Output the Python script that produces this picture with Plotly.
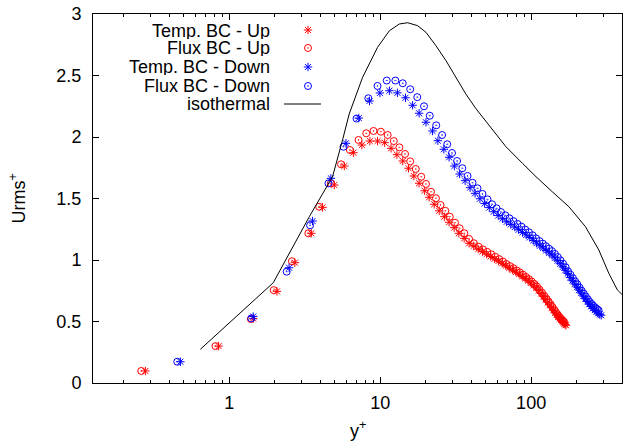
import plotly.graph_objects as go

# ---------------- data ----------------
yp_temp_up = [0.278, 0.85, 1.44, 2.07, 2.72, 3.49, 4.15, 4.96, 5.78, 6.64,
              7.56, 8.54, 9.60, 10.7, 11.8, 12.9, 14.1, 15.4, 16.7, 18.1,
              19.7, 21.1, 22.8, 24.6, 26.6, 28.6, 30.9, 33.2, 36.0, 38.8,
              41.6, 44.6, 47.6, 50.7, 53.9, 57.3, 60.7, 64.3, 67.9, 71.6,
              75.4, 79.3, 83.3, 87.3, 91.4, 95.5, 99.7, 103.9, 108.1, 112.3,
              116.5, 120.6, 124.8, 128.8, 132.8, 136.7, 140.5, 144.2, 147.7, 151.2,
              154.5, 157.6, 160.5, 163.2, 165.7, 168.0, 170.1]
urms_temp_up = [0.098, 0.30, 0.524, 0.745, 0.978, 1.217, 1.428, 1.61, 1.764, 1.872,
                1.935, 1.967, 1.967, 1.954, 1.908, 1.856, 1.805, 1.746, 1.683, 1.624,
                1.563, 1.51, 1.453, 1.40, 1.352, 1.307, 1.263, 1.217, 1.176, 1.136,
                1.114, 1.089, 1.068, 1.048, 1.029, 1.010, 0.991, 0.973, 0.954, 0.935,
                0.919, 0.902, 0.886, 0.867, 0.850, 0.832, 0.814, 0.794, 0.774, 0.751,
                0.728, 0.703, 0.680, 0.656, 0.634, 0.612, 0.591, 0.571, 0.553, 0.537,
                0.524, 0.512, 0.502, 0.492, 0.483, 0.476, 0.469]

yp_flux_up = [0.261, 0.81, 1.39, 1.97, 2.60, 3.34, 3.94, 4.71, 5.50, 6.30,
              7.18, 8.08, 9.03, 10.1, 11.2, 12.3, 13.4, 14.6, 15.8, 17.2,
              18.7, 20.1, 21.7, 23.4, 25.1, 27.0, 28.9, 31.3, 33.6, 36.1,
              38.8, 41.8,
              44.9, 48.0, 51.2, 54.5, 57.9, 61.5, 65.1, 68.7, 72.5, 76.3,
              80.3, 84.3, 88.4, 92.5, 96.7, 100.9, 105.2, 109.4, 113.6, 117.9,
              122.1, 126.3, 130.4, 134.5, 138.4, 142.2, 146.0, 149.6, 153.0, 156.3,
              159.4, 162.4, 165.2]
urms_flux_up = [0.098, 0.30, 0.52, 0.755, 0.99, 1.217, 1.433, 1.623, 1.778, 1.894,
                1.976, 2.03, 2.049, 2.043, 2.016, 1.967, 1.916, 1.862, 1.802, 1.74,
                1.677, 1.618, 1.555, 1.502, 1.447, 1.40, 1.352, 1.303, 1.258, 1.217,
                1.171, 1.136,
                1.108, 1.086, 1.066, 1.046, 1.026, 1.007, 0.987, 0.967, 0.950, 0.933,
                0.915, 0.899, 0.880, 0.862, 0.844, 0.825, 0.805, 0.784, 0.759, 0.735,
                0.710, 0.685, 0.663, 0.640, 0.618, 0.596, 0.576, 0.558, 0.541, 0.528,
                0.516, 0.506, 0.497]

yp_temp_down = [0.474, 1.44, 2.49, 3.56, 4.71, 5.93, 7.21, 8.49, 9.95, 11.5,
                13.0, 14.7, 16.4, 18.1, 20.1, 22.2, 24.1, 26.4, 28.6, 31.0,
                33.6, 36.5, 39.4, 42.5,
                45.8, 49.2, 52.8, 56.5, 60.5, 64.5, 68.8, 73.3, 77.9, 82.6,
                87.6, 92.7, 97.9, 103.3, 108.7, 114.4, 120.1, 125.9, 131.8, 137.7,
                143.8, 149.8, 155.9, 162.2, 168.5, 174.8, 181.3, 187.7, 194.4, 201.1,
                208.0, 214.7, 221.7, 228.6, 235.6, 242.6, 249.7, 256.6, 263.8, 270.7,
                277.8, 284.7, 291.2]
urms_temp_down = [0.173, 0.54, 0.937, 1.317, 1.664, 1.949, 2.154, 2.293, 2.358, 2.376,
                  2.359, 2.319, 2.258, 2.193, 2.12, 2.049, 1.97, 1.90, 1.835, 1.764,
                  1.699, 1.645, 1.588, 1.542,
                  1.498, 1.459, 1.426, 1.392, 1.361, 1.335, 1.310, 1.289, 1.268, 1.246,
                  1.224, 1.203, 1.183, 1.159, 1.137, 1.116, 1.097, 1.077, 1.058, 1.039,
                  1.018, 0.994, 0.970, 0.944, 0.917, 0.890, 0.858, 0.832, 0.806, 0.781,
                  0.756, 0.732, 0.707, 0.685, 0.663, 0.641, 0.622, 0.606, 0.592, 0.579,
                  0.567, 0.558, 0.551]

yp_flux_down = [0.452, 1.40, 2.40, 3.43, 4.54, 5.71, 6.97, 8.34, 9.60, 11.05,
                12.6, 14.1, 15.8, 17.6, 19.5, 21.3, 23.5, 25.7, 27.8, 29.9,
                32.3, 35.0, 37.9, 40.9, 44.1, 47.6, 51.4,
                55.1, 59.0, 63.1, 67.4, 71.8, 76.5, 81.3, 86.3, 91.4, 96.7,
                102.2, 107.8, 113.5, 119.4, 125.3, 131.4, 137.5, 143.8, 150.1, 156.3,
                162.7, 169.3, 175.8, 182.4, 189.2, 195.9, 202.6, 209.5, 216.3, 223.4,
                230.3, 237.4, 244.4, 251.6, 258.6, 265.7, 272.8, 279.9]
urms_flux_down = [0.173, 0.525, 0.905, 1.282, 1.623, 1.921, 2.15, 2.315, 2.415, 2.459,
                  2.459, 2.437, 2.388, 2.324, 2.25, 2.173, 2.095, 2.016, 1.941, 1.87,
                  1.805, 1.746, 1.683, 1.628, 1.583, 1.537, 1.493,
                  1.453, 1.420, 1.390, 1.363, 1.339, 1.316, 1.293, 1.271, 1.247, 1.225,
                  1.201, 1.176, 1.154, 1.133, 1.112, 1.092, 1.072, 1.049, 1.024, 0.997,
                  0.970, 0.941, 0.907, 0.880, 0.852, 0.825, 0.801, 0.775, 0.750, 0.726,
                  0.703, 0.680, 0.659, 0.642, 0.627, 0.613, 0.602, 0.591]

yp_iso = [0.643, 1.955, 3.39, 4.83, 5.63, 6.23, 7.64, 9.60, 11.5, 13.4,
          15.2, 17.7, 20.1, 23.4, 27.3, 31.7, 36.9, 43.1, 55.5, 68.1,
          87.6, 107.7, 138, 178, 229, 281, 327, 373, 400]
urms_iso = [0.274, 0.815, 1.352, 1.677, 1.976, 2.187, 2.485, 2.729, 2.864, 2.919,
            2.929, 2.905, 2.851, 2.742, 2.62, 2.485, 2.35, 2.23, 2.057, 1.921,
            1.786, 1.677, 1.555, 1.433, 1.271, 1.081, 0.892, 0.756, 0.72]

series_names = ["Temp. BC - Up", "Flux BC - Up", "Temp. BC - Down", "Flux BC - Down", "isothermal"]
x_ticks = [1, 10, 100]
y_ticks = [0, 0.5, 1, 1.5, 2, 2.5, 3]
y_tick_text = ["0", "0.5", "1", "1.5", "2", "2.5", "3"]

# ---------------- styles ----------------
RED = "#ff0000"
BLUE = "#0000ff"
FONT = "Liberation Sans, Arial, sans-serif"
FS = 18
STAR = dict(symbol="asterisk-open", size=7)
CIRC = dict(symbol="circle-open-dot", size=7)

fig = go.Figure()

def add_markers(x, y, color, style, **kw):
    m = dict(style)
    m["color"] = color
    m["line"] = dict(color=color, width=1)
    fig.add_trace(go.Scatter(x=x, y=y, mode="markers", marker=m, showlegend=False,
                             hoverinfo="skip", **kw))

add_markers(yp_temp_up, urms_temp_up, RED, STAR)
add_markers(yp_flux_up, urms_flux_up, RED, CIRC)
add_markers(yp_temp_down, urms_temp_down, BLUE, STAR)
add_markers(yp_flux_down, urms_flux_down, BLUE, CIRC)
fig.add_trace(go.Scatter(x=yp_iso, y=urms_iso, mode="lines",
                         line=dict(color="black", width=1), showlegend=False))

# ---------------- custom legend (text right-aligned, key on right) ----------------
leg_rows = [0.9566, 0.9079, 0.8564, 0.8049, 0.7561]
leg_key_x = 0.4064
leg_text_x = 0.3384
leg_styles = [(RED, STAR), (RED, CIRC), (BLUE, STAR), (BLUE, CIRC)]
for i, (col, st) in enumerate(leg_styles):
    add_markers([leg_key_x], [leg_rows[i]], col, st, xaxis="x2", yaxis="y2")
fig.add_trace(go.Scatter(x=[0.361, 0.431], y=[leg_rows[4]] * 2, xaxis="x2", yaxis="y2",
                         mode="lines", line=dict(color="black", width=1),
                         showlegend=False, hoverinfo="skip"))
for i, name in enumerate(series_names):
    fig.add_annotation(x=leg_text_x, y=leg_rows[i], xref="paper", yref="paper",
                       text=name, showarrow=False, xanchor="right", yanchor="middle",
                       height=17, valign="middle",
                       font=dict(family=FONT, size=FS, color="#000000"))

# axis titles
fig.add_annotation(x=0.5, y=-0.125, xref="paper", yref="paper", text="y<sup>+</sup>",
                   showarrow=False, xanchor="center", yanchor="middle",
                   font=dict(family=FONT, size=FS, color="#000000"))
fig.add_annotation(x=-0.142, y=0.5, xref="paper", yref="paper", text="Urms<sup>+</sup>",
                   showarrow=False, xanchor="center", yanchor="middle", textangle=-90,
                   font=dict(family=FONT, size=FS, color="#000000"))

axis_common = dict(showgrid=False, zeroline=False, showline=True, linecolor="black",
                   linewidth=1, ticks="inside", tickcolor="black", tickwidth=1,
                   mirror="ticks", tickfont=dict(family=FONT, size=FS, color="#000000"))

minor_vals = [0.2, 0.3, 0.4, 0.5, 0.6, 0.7, 0.8, 0.9,
              2, 3, 4, 5, 6, 7, 8, 9, 20, 30, 40, 50, 60, 70, 80, 90, 200, 300]

fig.update_layout(
    width=623, height=448,
    margin=dict(l=93, r=1, t=14, b=65),
    paper_bgcolor="white", plot_bgcolor="white",
    xaxis=dict(type="log", range=[-0.90309, 2.60206], tickvals=x_ticks,
               ticktext=[str(v) for v in x_ticks], ticklen=6, ticklabelstandoff=3,
               minor=dict(tickvals=minor_vals, ticks="inside", ticklen=3,
                          tickcolor="black", tickwidth=1, showgrid=False),
               **axis_common),
    yaxis=dict(range=[0, 3], tickvals=y_ticks, ticktext=y_tick_text,
               ticklen=6, ticklabelstandoff=7, **axis_common),
    xaxis2=dict(overlaying="x", range=[0, 1], visible=False, anchor="y2"),
    yaxis2=dict(overlaying="y", range=[0, 1], visible=False, anchor="x2"),
)

fig.write_html("out.html", config={"displayModeBar": False},
               post_script="document.body.style.margin='0';")
